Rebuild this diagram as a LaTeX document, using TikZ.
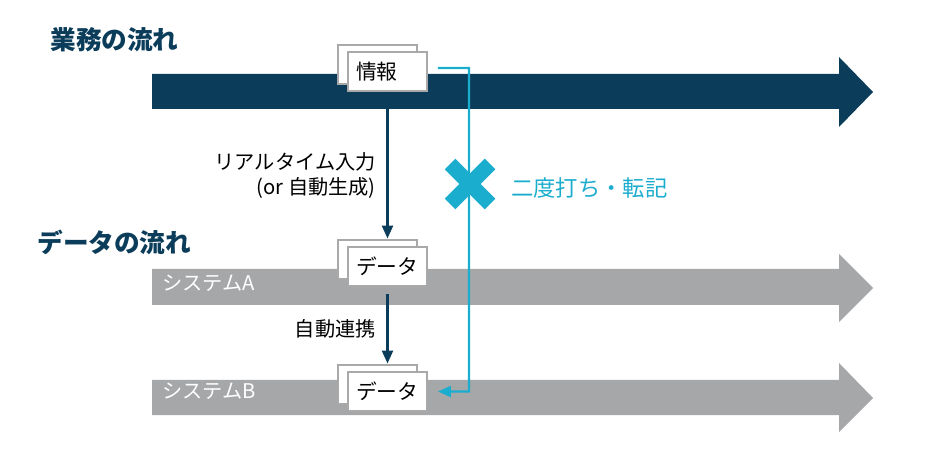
\documentclass[tikz,border=0pt]{standalone}
\usepackage{fontspec}
\setmainfont{Noto Sans CJK JP}
\usetikzlibrary{arrows.meta,shadows}

\definecolor{bizblue}{HTML}{0B3D5B}
\definecolor{sysgray}{HTML}{A6A7A9}
\definecolor{cardgray}{HTML}{A9A9A9}
\definecolor{dupcyan}{HTML}{1BADCE}

\tikzset{
    title/.style={anchor=west, inner sep=0pt, text=bizblue, font=\bfseries\fontsize{14.6}{16}\selectfont},
    card/.style={draw=cardgray, line width=1.1pt, fill=white, minimum height=0.78cm,
        text width=1.26cm, inner xsep=0.16cm, align=left, font=\fontsize{11.8}{13}\selectfont,
        general shadow={shadow xshift=-0.2cm, shadow yshift=0.14cm, draw=cardgray, line width=1.1pt, fill=white}},
    flow/.style={draw=bizblue, line width=1.4pt, -{Triangle[length=0.26cm,width=0.22cm]}},
    note/.style={align=right, inner sep=6pt, font=\fontsize{11.5}{14.2}\selectfont},
    sysname/.style={anchor=west, inner sep=0pt, text=white, font=\fontsize{11.5}{13}\selectfont},
    dup/.style={draw=dupcyan, line width=1.4pt, -{Triangle[length=0.26cm,width=0.22cm]}}
}

\begin{document}
\begin{tikzpicture}[x=0.02cm, y=-0.02cm]
            \useasboundingbox (0, 0) rectangle (932, 472);
            % band arrows
            \fill[bizblue] (152, 74) -- (839, 74) -- (839, 57) -- (873, 92) -- (839, 127) -- (839, 109) -- (152, 109) -- cycle;
            \fill[sysgray] (152, 269) -- (839, 269) -- (839, 254) -- (873, 288) -- (839, 322) -- (839, 305) -- (152, 305) -- cycle;
            \fill[sysgray] (152, 380) -- (839, 380) -- (839, 363) -- (873, 398) -- (839, 432) -- (839, 415) -- (152, 415) -- cycle;
            \node[title] (bizttl) at (50, 40) {業務の流れ};
            \node[title] (datattl) at (37, 242) {データの流れ};
            \node[sysname] (sysA) at (162, 283) {システムA};
            \node[sysname] (sysB) at (162, 391) {システムB};
            % cards
            \node[card] (info) at (387.5, 71.5) {情報};
            \node[card] (dataA) at (387.5, 266.5) {データ};
            \node[card] (dataB) at (387.5, 391.5) {データ};
            \draw[flow] (info.south) -- ([yshift=0.15cm]dataA.north)node[midway, left, note, yshift=-0.2cm]{リアルタイム入力\\(or 自動生成)};
            \draw[flow] ([yshift=-0.14cm]dataA.south) -- ([yshift=0.15cm]dataB.north)node[midway, left, note]{自動連携};
            % double entry
            \coordinate (turn) at (469, 68);
            \draw[dup] ([xshift=0.2cm, yshift=0.07cm]info.east) -- (turn) |- ([xshift=0.2cm]dataB.east);
            \coordinate (cross) at (470, 184);
            \draw[dupcyan, line width=0.3cm] ([shift={(-20,-20)}]cross) -- ([shift={(20,20)}]cross) ([shift={(-20,20)}]cross) -- ([shift={(20,-20)}]cross);
            \node[anchor=west, text=dupcyan, font=\fontsize{12.7}{14}\selectfont] (duptxt) at (505, 188) {二度打ち・転記};
        \end{tikzpicture}
\end{document}
